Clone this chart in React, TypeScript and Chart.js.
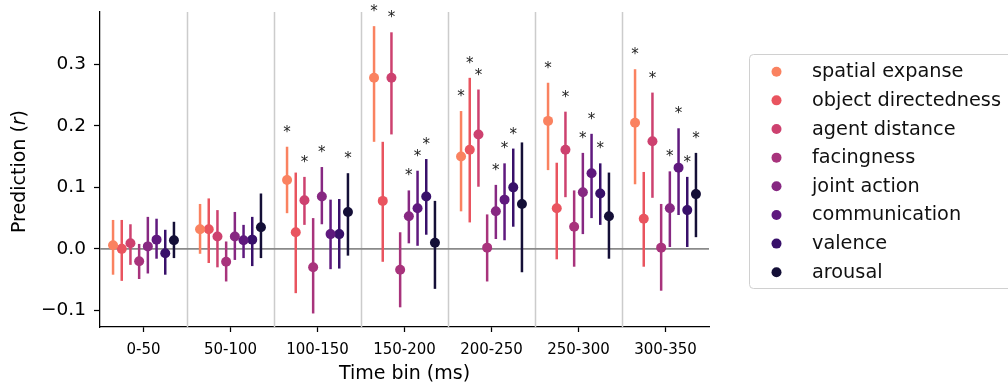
import React, { useEffect, useRef } from "react";
import { Chart, registerables } from "chart.js";

Chart.register(...registerables);

// ---------------- data ----------------
const categories = ["0-50", "50-100", "100-150", "150-200", "200-250", "250-300", "300-350"];
const seriesNames = [
  "spatial expanse",
  "object directedness",
  "agent distance",
  "facingness",
  "joint action",
  "communication",
  "valence",
  "arousal",
];
const seriesColors = ["#fa8260", "#e9545f", "#cd416f", "#a8337c", "#872882", "#5f197e", "#38106a", "#140f37"];

const yTicks = [-0.1, 0.0, 0.1, 0.2, 0.3];

const spatialMean = [0.006, 0.032, 0.112, 0.278, 0.150, 0.208, 0.205];
const spatialLo = [-0.042, -0.008, 0.058, 0.174, 0.061, 0.128, 0.105];
const spatialHi = [0.047, 0.073, 0.166, 0.362, 0.224, 0.270, 0.292];
const spatialSig = [0, 0, 1, 1, 1, 1, 1];

const objectMean = [0.0, 0.032, 0.027, 0.078, 0.161, 0.066, 0.049];
const objectLo = [-0.052, -0.023, -0.072, -0.021, 0.043, -0.017, -0.029];
const objectHi = [0.047, 0.082, 0.124, 0.174, 0.278, 0.140, 0.125];
const objectSig = [0, 0, 0, 0, 1, 0, 0];

const agentMean = [0.009, 0.020, 0.079, 0.278, 0.186, 0.161, 0.175];
const agentLo = [-0.026, -0.030, 0.039, 0.186, 0.101, 0.084, 0.083];
const agentHi = [0.040, 0.063, 0.117, 0.352, 0.259, 0.223, 0.254];
const agentSig = [0, 0, 1, 1, 1, 1, 1];

const facingMean = [-0.020, -0.021, -0.030, -0.034, 0.002, 0.036, 0.002];
const facingLo = [-0.049, -0.053, -0.105, -0.095, -0.053, -0.029, -0.068];
const facingHi = [0.008, 0.012, 0.050, 0.027, 0.056, 0.095, 0.073];
const facingSig = [0, 0, 0, 0, 0, 0, 0];

const jointMean = [0.004, 0.020, 0.085, 0.053, 0.061, 0.092, 0.066];
const jointLo = [-0.040, -0.018, 0.040, 0.009, 0.016, 0.024, 0.003];
const jointHi = [0.052, 0.060, 0.133, 0.095, 0.104, 0.156, 0.126];
const jointSig = [0, 0, 1, 1, 1, 1, 1];

const commMean = [0.015, 0.014, 0.024, 0.066, 0.080, 0.123, 0.132];
const commLo = [-0.016, -0.015, -0.033, 0.005, 0.014, 0.050, 0.055];
const commHi = [0.049, 0.039, 0.080, 0.127, 0.139, 0.187, 0.196];
const commSig = [0, 0, 0, 1, 1, 1, 1];

const valenceMean = [-0.007, 0.015, 0.024, 0.085, 0.100, 0.090, 0.063];
const valenceLo = [-0.042, -0.028, -0.032, 0.023, 0.036, 0.039, 0.003];
const valenceHi = [0.031, 0.052, 0.081, 0.146, 0.163, 0.139, 0.117];
const valenceSig = [0, 0, 0, 1, 1, 1, 1];

const arousalMean = [0.014, 0.035, 0.060, 0.010, 0.073, 0.053, 0.089];
const arousalLo = [-0.015, -0.015, -0.011, -0.065, -0.038, -0.016, 0.019];
const arousalHi = [0.044, 0.090, 0.123, 0.078, 0.173, 0.124, 0.156];
const arousalSig = [0, 0, 1, 0, 0, 0, 1];

const allMeans = [spatialMean, objectMean, agentMean, facingMean, jointMean, commMean, valenceMean, arousalMean];
const allLo = [spatialLo, objectLo, agentLo, facingLo, jointLo, commLo, valenceLo, arousalLo];
const allHi = [spatialHi, objectHi, agentHi, facingHi, jointHi, commHi, valenceHi, arousalHi];
const allSig = [spatialSig, objectSig, agentSig, facingSig, jointSig, commSig, valenceSig, arousalSig];

// ---------------- layout / style ----------------
const W = 1008;
const H = 387;
const FONT = '"DejaVu Sans", "Liberation Sans", sans-serif';
const dodge = 0.1; // within-bin offset between series (category units)
const xPos = (bin: number, s: number) => bin + (s - (seriesNames.length - 1) / 2) * dodge;

const decorPlugin = {
  id: "decor",
  beforeDatasetsDraw(chart: any) {
    const { ctx, chartArea: a, scales } = chart;
    const x = scales.x;
    const y = scales.y;
    ctx.save();
    ctx.strokeStyle = "#cccccc";
    ctx.lineWidth = 1.5;
    for (let i = 0; i < categories.length - 1; i++) {
      const px = Math.round(x.getPixelForValue(i + 0.5)) + 0.5;
      ctx.beginPath();
      ctx.moveTo(px, a.top);
      ctx.lineTo(px, a.bottom);
      ctx.stroke();
    }
    const y0 = y.getPixelForValue(0);
    ctx.strokeStyle = "#8a8a8a";
    ctx.lineWidth = 1.7;
    ctx.beginPath();
    ctx.moveTo(a.left, y0);
    ctx.lineTo(a.right, y0);
    ctx.stroke();
    ctx.restore();
  },
  afterDatasetsDraw(chart: any) {
    const { ctx, scales } = chart;
    const x = scales.x;
    const y = scales.y;
    ctx.save();
    ctx.font = `15px ${FONT}`;
    ctx.fillStyle = "#222222";
    ctx.textAlign = "center";
    ctx.textBaseline = "alphabetic";
    for (let s = 0; s < seriesNames.length; s++) {
      for (let b = 0; b < categories.length; b++) {
        if (!allSig[s][b]) continue;
        const px = x.getPixelForValue(xPos(b, s));
        const py = y.getPixelForValue(allHi[s][b]);
        ctx.fillText("*", px, py - 10);
      }
    }
    ctx.restore();
  },
  afterDraw(chart: any) {
    const { ctx, chartArea: a } = chart;
    ctx.save();
    // x title
    ctx.fillStyle = "#000";
    ctx.font = `19px ${FONT}`;
    ctx.textAlign = "center";
    ctx.textBaseline = "alphabetic";
    ctx.fillText("Time bin (ms)", (a.left + a.right) / 2, 379);
    // y title with italic r
    const p1 = "Prediction (";
    const p2 = "r";
    const p3 = ")";
    const normal = `19px ${FONT}`;
    const italic = `italic 19px ${FONT}`;
    ctx.font = normal;
    const w1 = ctx.measureText(p1).width;
    const w3 = ctx.measureText(p3).width;
    ctx.font = italic;
    const w2 = ctx.measureText(p2).width;
    const total = w1 + w2 + w3;
    ctx.translate(25, (a.top + a.bottom) / 2 + 2);
    ctx.rotate(-Math.PI / 2);
    ctx.textAlign = "left";
    let cx = -total / 2;
    ctx.font = normal;
    ctx.fillText(p1, cx, 0);
    cx += w1;
    ctx.font = italic;
    ctx.fillText(p2, cx, 0);
    cx += w2;
    ctx.font = normal;
    ctx.fillText(p3, cx, 0);
    ctx.restore();

    // legend
    ctx.save();
    const boxL = 749.5;
    const boxT = 54.5;
    const boxB = 288.5;
    ctx.fillStyle = "rgba(255,255,255,0.8)";
    ctx.strokeStyle = "#d0d0d0";
    ctx.lineWidth = 1;
    ctx.beginPath();
    (ctx as any).roundRect(boxL, boxT, 1016 - boxL, boxB - boxT, 4);
    ctx.fill();
    ctx.stroke();
    ctx.font = `19.3px ${FONT}`;
    ctx.textAlign = "left";
    ctx.textBaseline = "alphabetic";
    for (let s = 0; s < seriesNames.length; s++) {
      const ry = 71.7 + s * 28.65;
      ctx.fillStyle = seriesColors[s];
      ctx.beginPath();
      ctx.arc(776.5, ry, 5, 0, Math.PI * 2);
      ctx.fill();
      ctx.fillStyle = "#111";
      ctx.fillText(seriesNames[s], 812, ry + 5.5);
    }
    ctx.restore();
  },
};

export default function App() {
  const ref = useRef<HTMLCanvasElement | null>(null);
  useEffect(() => {
    if (!ref.current) return;
    const datasets: any[] = [];
    seriesNames.forEach((name, s) => {
      datasets.push({
        type: "scatter",
        label: name,
        data: allMeans[s].map((v, b) => ({ x: xPos(b, s), y: v })),
        backgroundColor: seriesColors[s],
        borderWidth: 0,
        pointRadius: 5,
        pointHoverRadius: 5,
        order: 0,
      });
      datasets.push({
        type: "bar",
        label: name + " CI",
        data: allLo[s].map((lo, b) => ({ x: xPos(b, s), y: [lo, allHi[s][b]] })),
        backgroundColor: seriesColors[s],
        borderWidth: 0,
        barThickness: 2.5,
        grouped: false,
        inflateAmount: 0,
        order: 1,
      });
    });
    const chart = new Chart(ref.current, {
      type: "scatter",
      data: { datasets },
      options: {
        animation: false,
        responsive: false,
        devicePixelRatio: 1,
        layout: { padding: { top: 12, right: W - 709, left: 0, bottom: 0 } },
        plugins: { legend: { display: false }, tooltip: { enabled: false } },
        events: [],
        scales: {
          x: {
            type: "linear",
            offset: false,
            min: -0.5,
            max: categories.length - 0.5,
            afterBuildTicks: (scale: any) => {
              scale.ticks = categories.map((_, i) => ({ value: i }));
            },
            afterFit: (scale: any) => {
              scale.height = H - 327;
              scale.paddingLeft = 0;
              scale.paddingRight = 0;
            },
            ticks: {
              autoSkip: false,
              maxRotation: 0,
              padding: 9,
              color: "#000",
              font: { family: FONT, size: 15 },
              callback: (v: any) => categories[Math.round(Number(v))] ?? "",
            },
            grid: {
              offset: false,
              drawOnChartArea: false,
              drawTicks: true,
              tickLength: 5,
              tickColor: "#000",
              tickWidth: 1.25,
            },
            border: { display: true, color: "#000", width: 1.25 },
          },
          y: {
            type: "linear",
            min: -0.127,
            max: 0.385,
            afterBuildTicks: (scale: any) => {
              scale.ticks = yTicks.map((v) => ({ value: v }));
            },
            afterFit: (scale: any) => {
              scale.width = 100;
              scale.paddingTop = 0;
              scale.paddingBottom = 0;
            },
            ticks: {
              padding: 8,
              color: "#000",
              font: { family: FONT, size: 18.5 },
              callback: (v: any) => {
                const n = Number(v);
                return (n < -1e-9 ? "\u2212" : "") + Math.abs(n).toFixed(1);
              },
            },
            grid: {
              drawOnChartArea: false,
              drawTicks: true,
              tickLength: 6,
              tickColor: "#000",
              tickWidth: 1.25,
            },
            border: { display: true, color: "#000", width: 1.25 },
          },
        },
      },
      plugins: [decorPlugin],
    } as any);
    return () => chart.destroy();
  }, []);
  return (
    <div style={{ position: "fixed", left: 0, top: 0, width: W, height: H, background: "#fff" }}>
      <canvas ref={ref} width={W} height={H} style={{ display: "block", width: W, height: H }} />
    </div>
  );
}
